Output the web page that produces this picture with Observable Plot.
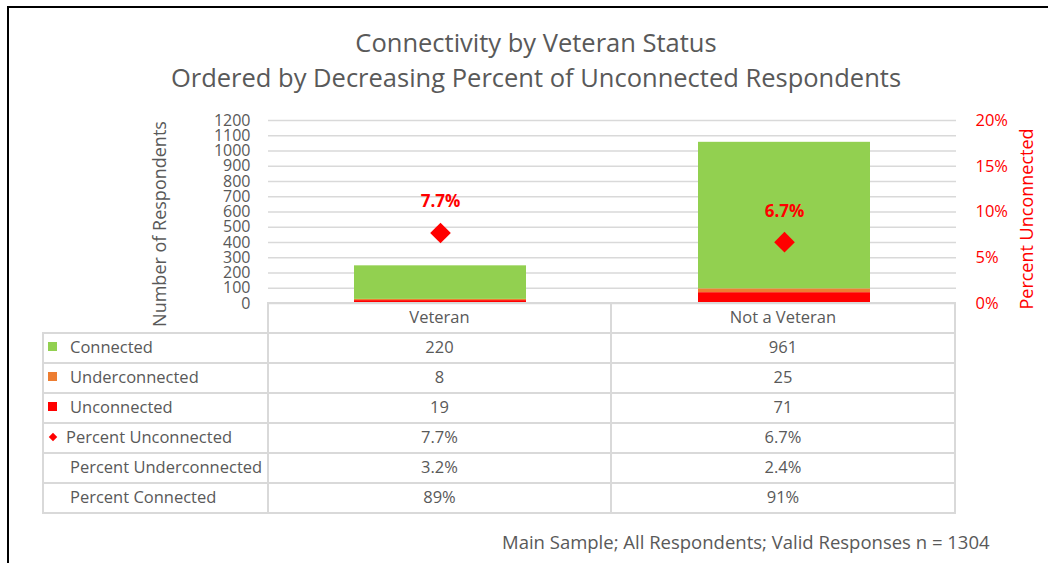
<!DOCTYPE html>
<html>
<head>
<meta charset="utf-8">
<script src="https://cdn.jsdelivr.net/npm/d3@7"></script>
<script src="https://cdn.jsdelivr.net/npm/@observablehq/plot@0.6"></script>
<style>
  html, body { margin: 0; padding: 0; background: #fff; overflow: hidden; }
  #wrap { position: relative; width: 1052px; height: 563px; overflow: hidden; font-family: "Open Sans", sans-serif; color: #595959; background: #fff; }
  #hline { position: absolute; left: 7px; top: 6px; width: 1041px; height: 2px; background: #000; }
  #vline { position: absolute; left: 7px; top: 6px; width: 2px; height: 557px; background: #000; }
  #title { position: absolute; left: 10px; width: 1052px; top: 25px; text-align: center; font-size: 25.5px; line-height: 35px; }
  .plot { position: absolute; left: 0; top: 0; }
  .cell { position: absolute; box-sizing: border-box; border: 2px solid #d9d9d9; font-size: 16.5px; display: flex; align-items: center; white-space: nowrap; padding-bottom: 3px; }
  .num { justify-content: center; }
  .key { position: absolute; }
  #footer { position: absolute; left: 502px; top: 529px; font-size: 18.5px; white-space: nowrap; }
</style>
</head>
<body>
<div id="wrap">
  <div id="hline"></div>
  <div id="vline"></div>
  <div id="title">Connectivity by Veteran Status<br>Ordered by Decreasing Percent of Unconnected Respondents</div>
  <div id="chart"></div>
  <div id="table"></div>
  <div id="footer">Main Sample; All Respondents; Valid Responses n = 1304</div>
</div>
<script>
// ---- data ----
const categories = ["Veteran", "Not a Veteran"];
const connected = [220, 961];
const underconnected = [8, 25];
const unconnected = [19, 71];
const pctUnconnected = [0.077, 0.067];
const pctUnderconnected = [0.032, 0.024];
const pctConnected = [0.89, 0.91];
const stackOrder = ["Unconnected", "Underconnected", "Connected"];
const stackColors = ["#FF0000", "#ED7D31", "#92D050"];
const leftTicks = [0, 100, 200, 300, 400, 500, 600, 700, 800, 900, 1000, 1100, 1200];
const rightTicks = [0, 0.05, 0.10, 0.15, 0.20];
const leftTitle = "Number of Respondents";
const rightTitle = "Percent Unconnected";

const seriesValues = { Unconnected: unconnected, Underconnected: underconnected, Connected: connected };
const barData = [];
categories.forEach((c, i) => {
  stackOrder.forEach(s => barData.push({ category: c, series: s, value: seriesValues[s][i] }));
});
const pctData = categories.map((c, i) => ({ category: c, pct: pctUnconnected[i] }));

const W = 1052, H = 340;
const common = {
  width: W, height: H, marginTop: 120, marginBottom: 37, marginLeft: 268, marginRight: 96,
  x: { domain: categories, paddingInner: 0.5, paddingOuter: 0.25, axis: null }
};
const fmt1 = d3.format(".1%");
const fmt0 = d3.format(".0%");
const fmtInt = d3.format("d");

const p1 = Plot.plot({
  ...common,
  y: { domain: [0, 1200], label: null },
  color: { domain: stackOrder, range: stackColors },
  style: { background: "transparent", fontFamily: "Open Sans", fontSize: "16px", color: "#595959", overflow: "visible" },
  marks: [
    Plot.gridY(leftTicks, { stroke: "#d9d9d9", strokeOpacity: 1, strokeWidth: 1.5 }),
    Plot.axisY(leftTicks, { tickSize: 0, tickPadding: 18, tickFormat: fmtInt, label: null, fontSize: 16 }),
    Plot.barY(barData, { x: "category", y: "value", fill: "series" }),
    Plot.text([leftTitle], { text: d => d, frameAnchor: "left", rotate: -90, dx: -108, dy: 12, textAnchor: "middle", lineAnchor: "middle", fontSize: 18, fill: "#595959" })
  ]
});
p1.classList.add("plot");

const p2 = Plot.plot({
  ...common,
  y: { domain: [0, 0.2], label: null },
  style: { background: "transparent", fontFamily: "Open Sans", fontSize: "16.5px", color: "#FF0000", overflow: "visible" },
  marks: [
    Plot.axisY(rightTicks, { anchor: "right", tickSize: 0, tickPadding: 19, tickFormat: fmt0, label: null, fontSize: 16.5 }),
    Plot.dot(pctData, { x: "category", y: "pct", symbol: "diamond2", r: 9.3, fill: "#FF0000", stroke: null }),
    Plot.text(pctData, { x: "category", y: "pct", text: d => fmt1(d.pct), dy: -31, fontWeight: "bold", fontSize: 17, fill: "#FF0000" }),
    Plot.text([rightTitle], { text: d => d, frameAnchor: "right", rotate: -90, dx: 71, dy: 7, textAnchor: "middle", lineAnchor: "middle", fontSize: 18, fill: "#FF0000" })
  ]
});
p2.classList.add("plot");

const chart = document.getElementById("chart");
chart.appendChild(p1);
chart.appendChild(p2);

// ---- data table (also the legend) ----
const colX = [43, 268, 611, 955];
const rowTop = 303, rowH = 30;
const rows = [
  { label: "Connected", key: "square", color: stackColors[2], vals: connected.map(String) },
  { label: "Underconnected", key: "square", color: stackColors[1], vals: underconnected.map(String) },
  { label: "Unconnected", key: "square", color: stackColors[0], vals: unconnected.map(String) },
  { label: "Percent Unconnected", key: "diamond", color: "#FF0000", vals: pctUnconnected.map(fmt1) },
  { label: "Percent Underconnected", key: null, vals: pctUnderconnected.map(fmt1) },
  { label: "Percent Connected", key: null, vals: pctConnected.map(fmt0) }
];
const table = document.getElementById("table");
function cell(x0, x1, y0, y1, cls) {
  const d = document.createElement("div");
  d.className = "cell " + (cls || "");
  d.style.left = (x0 - 1) + "px";
  d.style.top = (y0 - 1) + "px";
  d.style.width = (x1 - x0 + 2) + "px";
  d.style.height = (y1 - y0 + 2) + "px";
  table.appendChild(d);
  return d;
}
// header row
categories.forEach((c, j) => {
  const d = cell(colX[j + 1], colX[j + 2], rowTop, rowTop + rowH, "num");
  d.textContent = c;
});
rows.forEach((r, i) => {
  const y0 = rowTop + rowH * (i + 1), y1 = y0 + rowH;
  const lab = cell(colX[0], colX[1], y0, y1, "");
  const span = document.createElement("span");
  span.textContent = r.label;
  span.style.position = "absolute";
  span.style.left = (r.key === "diamond" ? 22 : 26) + "px";
  lab.appendChild(span);
  if (r.key === "square") {
    const k = document.createElement("div");
    k.className = "key";
    k.style.cssText = `left:4px;width:9px;height:9px;background:${r.color};`;
    lab.appendChild(k);
  } else if (r.key === "diamond") {
    const k = document.createElement("div");
    k.className = "key";
    k.style.cssText = `left:6px;width:6px;height:6px;background:${r.color};transform:rotate(45deg);`;
    lab.appendChild(k);
  }
  r.vals.forEach((v, j) => {
    const d = cell(colX[j + 1], colX[j + 2], y0, y1, "num");
    d.textContent = v;
  });
});
</script>
</body>
</html>
